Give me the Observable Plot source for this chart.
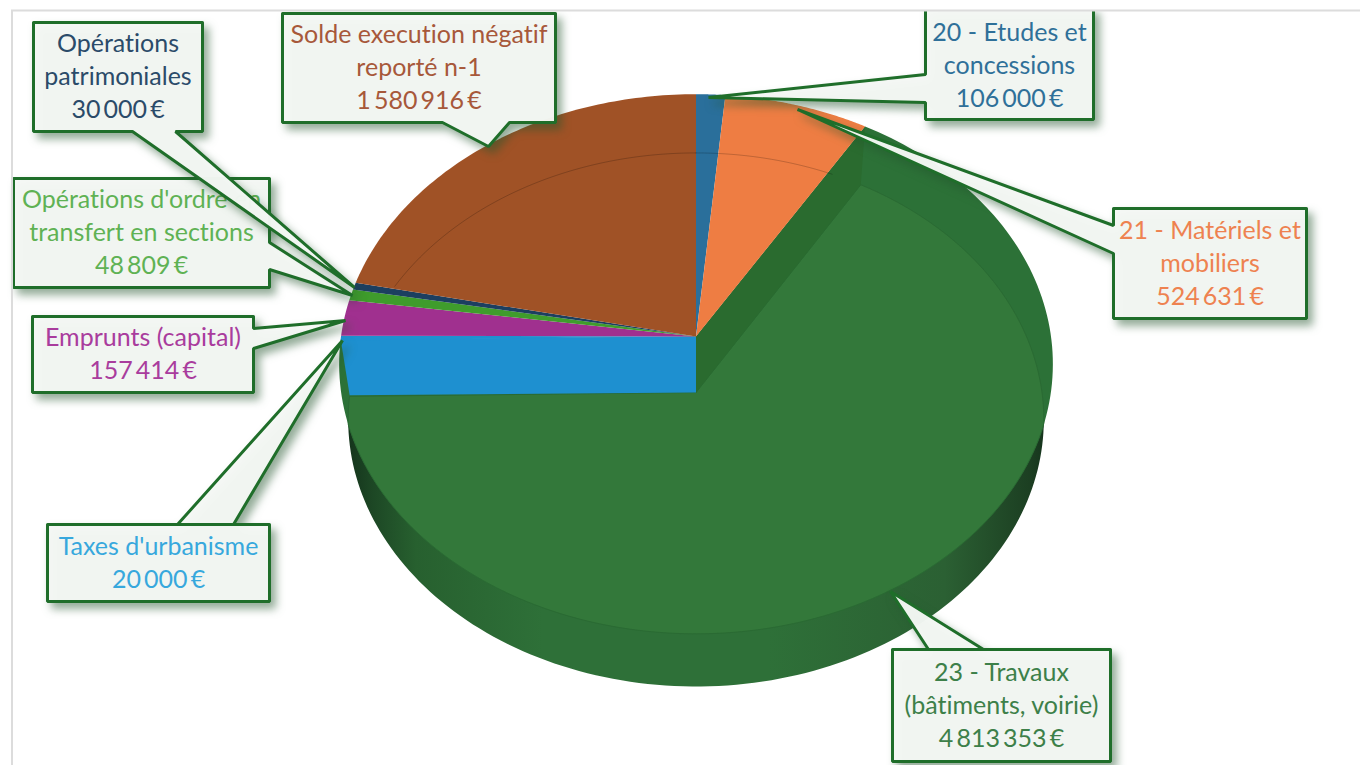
<!DOCTYPE html>
<html lang="fr">
<head>
<meta charset="utf-8">
<title>Dépenses d'investissement</title>
<script src="https://cdn.jsdelivr.net/npm/d3@7"></script>
<script src="https://cdn.jsdelivr.net/npm/@observablehq/plot@0.6"></script>
<style>
  html, body { margin: 0; padding: 0; background: #fff; }
  svg { display: block; font-variant-ligatures: none; }
</style>
</head>
<body>
<div id="chart"></div>
<script>
// ---- Data ----
const categories = [
  "20 - Etudes et\nconcessions",
  "21 - Matériels et\nmobiliers",
  "23 - Travaux\n(bâtiments, voirie)",
  "Taxes d'urbanisme",
  "Emprunts (capital)",
  "Opérations d'ordre en\ntransfert en sections",
  "Opérations\npatrimoniales",
  "Solde execution négatif\nreporté n-1"
];
const amounts = [106000, 524631, 4813353, 20000, 157414, 48809, 30000, 1580916];

// ---- Styles, separate from the data ----
const sliceColors = ["#2a6f9b", "#ee7d43", "#33783a", "#1e90d0", "#a0308f", "#3f9c2c", "#1c3f60", "#a05226"];
const textColors  = ["#2f7099", "#ee8250", "#3d8049", "#37a8dd", "#a93c9d", "#5fb254", "#2b4b69", "#a7583a"];

// ---- Callout layout: [left, top, right, bottom], wedge base a→b, and wedge tip ----
const calloutOrder = [5, 4, 3, 7, 2, 1, 0, 6];
const boxes = {
  0: {box: [925, 8, 1093, 119],   a: [925, 102],  tip: [708, 97],  b: [925, 74]},
  1: {box: [1113, 208, 1306, 318], a: [1113, 253], tip: [797, 109], b: [1113, 225]},
  2: {box: [892, 649, 1110, 761], a: [983, 649],  tip: [890, 591], b: [928, 649]},
  3: {box: [47, 524, 269, 601],   a: [177, 524],  tip: [342, 340], b: [233, 524]},
  4: {box: [32, 316, 253, 392],   a: [253, 328],  tip: [345, 320], b: [253, 348]},
  5: {box: [13, 178, 269, 287],   a: [269, 242],  tip: [352, 295], b: [269, 269]},
  6: {box: [33, 22, 202, 131],    a: [132, 131],  tip: [354, 287], b: [175, 131]},
  7: {box: [282, 13, 555, 122],   a: [442, 122],  tip: [488, 146], b: [509, 122]}
};

// ---- Perspective disc geometry ----
const topFace    = {cx: 695.5, cy: 336, a: 267, b: 355, k: 0.102};
const bottomFace = {cx: 695.5, cy: 392, a: 264, b: 346, k: 0.102};
const onDisc = (f, t) => {
  const x = Math.sin(t), y = Math.cos(t), d = 1 + f.k * y;
  return {x: f.cx + f.b * x / d, y: f.cy - f.a * y / d};
};
const arc = (f, t0, t1, n = 180) => d3.range(n + 1).map(i => onDisc(f, t0 + (t1 - t0) * i / n));
const apex = f => ({x: f.cx, y: f.cy});
const ellipseOf = f => {
  const up = f.a / (1 + f.k), dn = f.a / (1 - f.k);
  return {cx: f.cx, cy: f.cy + (dn - up) / 2, ry: (up + dn) / 2, rx: f.b / Math.sqrt(1 - f.k * f.k)};
};
const inside = (f, p) => {
  const e = ellipseOf(f);
  return ((p.x - e.cx) / e.rx) ** 2 + ((p.y - e.cy) / e.ry) ** 2 <= 1;
};

const slices = d3.pie().sort(null)(amounts);
const green = slices[2];

// Visible floor of the main slice: bottom-face points inside the top face, top-face points inside the bottom face
const floorArc = arc(bottomFace, green.startAngle, green.endAngle, 400);
const firstOut = floorArc.findIndex(p => !inside(topFace, p));
const lastOut = floorArc.length - 1 - [...floorArc].reverse().findIndex(p => !inside(topFace, p));
const frontArc = arc(topFace, green.startAngle, green.endAngle, 400).filter(p => inside(bottomFace, p) && p.y > 400);
const floorShape = [apex(bottomFace), ...floorArc.slice(0, firstOut), ...frontArc, ...floorArc.slice(lastOut + 1), apex(bottomFace)];

const shape = (pts, o) => Plot.line(pts, {x: "x", y: "y", curve: "linear", stroke: "none", ...o});
const xy = ([x, y]) => ({x, y});

// Walk the box clockwise; the wedge is inserted on the side that holds its base
function calloutPath(c) {
  const [l, t, r, b] = c.box;
  const corners = [[l, t], [r, t], [r, b], [l, b]];
  const side = c.a[1] === t ? 0 : c.a[0] === r ? 1 : c.a[1] === b ? 2 : 3;
  const key = side % 2 === 0 ? 0 : 1, ascending = side < 2;
  const [first, second] = (c.a[key] < c.b[key]) === ascending ? [c.a, c.b] : [c.b, c.a];
  const pts = [];
  corners.forEach((q, i) => {
    pts.push(q);
    if (i === side) pts.push(first, c.tip, second);
  });
  pts.push(corners[0], corners[1]);
  return pts.map(xy);
}

const euro = d3.formatLocale({decimal: ",", thousands: "\u2009", grouping: [3], currency: ["", "\u2009€"]}).format("$,d");

const defsMark = () => {
  const ns = "http://www.w3.org/2000/svg";
  const defs = document.createElementNS(ns, "defs");
  const g = document.createElementNS(ns, "linearGradient");
  g.setAttribute("id", "wall");
  g.setAttribute("gradientUnits", "userSpaceOnUse");
  g.setAttribute("x1", 345); g.setAttribute("x2", 1050);
  g.setAttribute("y1", 0); g.setAttribute("y2", 0);
  [[0, "#14321b"], [0.04, "#1d4825"], [0.1, "#27602f"], [0.28, "#2e7038"], [0.6, "#2e7038"], [0.85, "#2b6033"], [0.97, "#1c3f22"], [1, "#13301a"]]
    .forEach(([o, col]) => {
      const s = document.createElementNS(ns, "stop");
      s.setAttribute("offset", o); s.setAttribute("stop-color", col);
      g.appendChild(s);
    });
  defs.appendChild(g);
  return defs;
};

const marks = [defsMark];

// outer wall, ring of the main slice, floor of the main slice
marks.push(shape([apex(bottomFace), ...arc(bottomFace, green.startAngle, green.endAngle), apex(bottomFace)], {fill: "url(#wall)"}));
marks.push(shape([apex(topFace), ...arc(topFace, green.startAngle, green.endAngle), apex(topFace)], {fill: "#2c7137"}));
marks.push(shape(floorShape, {fill: "#33783a", stroke: "#2a6a33", strokeWidth: 1}));

// inner cut faces
const wall = (t, fill) => shape([apex(topFace), onDisc(topFace, t), onDisc(bottomFace, t), apex(bottomFace), apex(topFace)], {fill});
marks.push(wall(green.startAngle, "#2a6b2f"));
marks.push(wall(green.endAngle + 0.004, "#1e90d0"));

// top slices
slices.forEach((s, i) => {
  if (i === 2) return;
  marks.push(shape([apex(topFace), ...arc(topFace, s.startAngle, s.endAngle, 80), apex(topFace)], {fill: sliceColors[i]}));
});

// far edge of the bottom face, seen through the slices
marks.push(shape(arc(bottomFace, slices[7].startAngle + 0.226, slices[7].endAngle), {stroke: "#000", strokeOpacity: 0.2, strokeWidth: 1, fill: "none"}));
marks.push(shape(arc(bottomFace, slices[0].startAngle, slices[1].endAngle - 0.1), {stroke: "#000", strokeOpacity: 0.2, strokeWidth: 1, fill: "none"}));

// callouts
const shadow = "drop-shadow(5px 6px 4px rgba(35,85,45,0.5))";
calloutOrder.forEach(i => {
  const c = boxes[i];
  marks.push(shape(calloutPath(c), {
    fill: "#f5f8f5", fillOpacity: 0.97, stroke: "#1f6e2a", strokeWidth: 3,
    strokeLinejoin: "miter", imageFilter: shadow
  }));
  const [l, t, r, b] = c.box;
  const topText = i === 0 ? 11 : t;
  marks.push(Plot.text([i], {
    x: () => (l + r) / 2,
    y: () => (topText + b) / 2 - 2.5,
    text: () => categories[i] + "\n" + euro(amounts[i]),
    fill: textColors[i], fontSize: 25, lineHeight: 1.32, lineAnchor: "middle", textAnchor: "middle",
    fontFamily: "Lato, 'Noto Sans', sans-serif"
  }));
});

// crop at the picture frame
marks.push(Plot.rect([0], {x1: () => 0, x2: () => 1360, y1: () => 0, y2: () => 10, fill: "#fff"}));
marks.push(Plot.ruleY([10], {x1: 11, x2: 1360, stroke: "#dcdcdc", strokeWidth: 2}));
marks.push(Plot.ruleX([11.5], {y1: 10, y2: 765, stroke: "#dcdcdc", strokeWidth: 2}));

const chart = Plot.plot({
  width: 1360, height: 765,
  marginTop: 0, marginRight: 0, marginBottom: 0, marginLeft: 0,
  x: {domain: [0, 1360], range: [0, 1360], axis: null},
  y: {domain: [0, 765], range: [0, 765], axis: null},
  style: {background: "#fff"},
  marks
});
document.getElementById("chart").appendChild(chart);
</script>
</body>
</html>
